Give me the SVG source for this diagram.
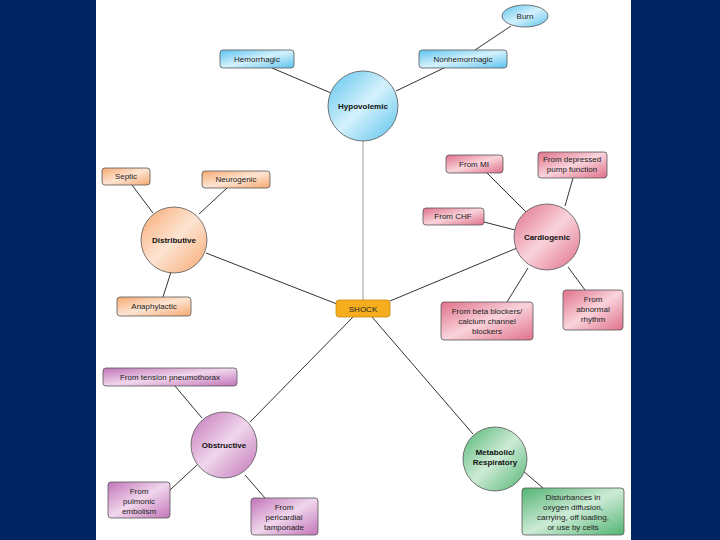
<svg xmlns="http://www.w3.org/2000/svg" width="720" height="540" viewBox="0 0 720 540">
<defs>
<linearGradient id="gBlue" x1="0" y1="0" x2="1" y2="1">
<stop offset="0" stop-color="#5cc3ee"/><stop offset="0.5" stop-color="#d4f1fc"/><stop offset="1" stop-color="#5cc3ee"/>
</linearGradient>
<linearGradient id="gOrange" x1="0" y1="0" x2="1" y2="1">
<stop offset="0" stop-color="#f6a870"/><stop offset="0.5" stop-color="#fde4d2"/><stop offset="1" stop-color="#f6a870"/>
</linearGradient>
<linearGradient id="gPink" x1="0" y1="0" x2="1" y2="1">
<stop offset="0" stop-color="#e0708a"/><stop offset="0.5" stop-color="#f9d3db"/><stop offset="1" stop-color="#e0708a"/>
</linearGradient>
<linearGradient id="gPurple" x1="0" y1="0" x2="1" y2="1">
<stop offset="0" stop-color="#c274b8"/><stop offset="0.5" stop-color="#f0d6ec"/><stop offset="1" stop-color="#c274b8"/>
</linearGradient>
<linearGradient id="gGreen" x1="0" y1="0" x2="1" y2="1">
<stop offset="0" stop-color="#52b472"/><stop offset="0.5" stop-color="#cdebd6"/><stop offset="1" stop-color="#52b472"/>
</linearGradient>
</defs>
<style>
.bg{fill:#002462}
.panel{fill:#ffffff}
.c{stroke:#555;stroke-width:0.8}
.b{stroke:#555;stroke-width:0.8}
.t{font-family:"Liberation Sans",Arial,sans-serif;font-size:8px;fill:#222;text-anchor:middle}
.tb{font-family:"Liberation Sans",Arial,sans-serif;font-size:8px;fill:#111;text-anchor:middle;font-weight:bold}
#connectors line{stroke:#333;stroke-width:1}
</style>
<rect class="bg" x="0" y="0" width="720" height="540"/>
<rect class="panel" x="96" y="0" width="535" height="540"/>
<g id="connectors">
<line x1="363" y1="141" x2="363" y2="300" style="stroke:#999"/>
<line x1="272" y1="68" x2="331" y2="93"/>
<line x1="446" y1="67" x2="396" y2="91"/>
<line x1="511" y1="26" x2="475" y2="50"/>
<line x1="132" y1="185" x2="153" y2="213"/>
<line x1="227" y1="188" x2="199" y2="214"/>
<line x1="163" y1="297" x2="171" y2="272"/>
<line x1="206" y1="253" x2="337" y2="304"/>
<line x1="487" y1="173" x2="526" y2="212"/>
<line x1="573" y1="178" x2="565" y2="206"/>
<line x1="484" y1="222" x2="515" y2="230"/>
<line x1="585" y1="290" x2="568" y2="267"/>
<line x1="507" y1="302" x2="528" y2="268"/>
<line x1="517" y1="248" x2="390" y2="301"/>
<line x1="175" y1="386" x2="202" y2="418"/>
<line x1="170" y1="490" x2="197" y2="465"/>
<line x1="265" y1="498" x2="245" y2="475"/>
<line x1="250" y1="422" x2="353" y2="317"/>
<line x1="522" y1="470" x2="543" y2="488"/>
<line x1="473" y1="434" x2="372" y2="317"/>
</g>
<g id="burn"><ellipse class="c" cx="525" cy="16" rx="23" ry="11" fill="url(#gBlue)"/><text class="t" x="525" y="19">Burn</text></g>
<g id="hemorrhagic"><rect class="b" x="220" y="50" width="74" height="18" rx="3" fill="url(#gBlue)"/><text class="t" x="257" y="62">Hemorrhagic</text></g>
<g id="nonhemorrhagic"><rect class="b" x="419" y="50" width="88" height="18" rx="3" fill="url(#gBlue)"/><text class="t" x="463" y="62">Nonhemorrhagic</text></g>
<g id="hypovolemic"><circle class="c" cx="363" cy="106" r="35" fill="url(#gBlue)"/><text class="tb" x="363" y="109">Hypovolemic</text></g>
<g id="septic"><rect class="b" x="102" y="168" width="48" height="17" rx="3" fill="url(#gOrange)"/><text class="t" x="126" y="179">Septic</text></g>
<g id="neurogenic"><rect class="b" x="202" y="171" width="68" height="17" rx="3" fill="url(#gOrange)"/><text class="t" x="236" y="182">Neurogenic</text></g>
<g id="distributive"><circle class="c" cx="174" cy="240" r="33" fill="url(#gOrange)"/><text class="tb" x="174" y="243">Distributive</text></g>
<g id="anaphylactic"><rect class="b" x="117" y="297" width="74" height="19" rx="3" fill="url(#gOrange)"/><text class="t" x="154" y="309">Anaphylactic</text></g>
<g id="shock"><rect x="336" y="300" width="54" height="17" rx="3" fill="#f6ae1e" stroke="#c98a10" stroke-width="0.8"/><text class="t" x="363" y="312">SHOCK</text></g>
<g id="frommi"><rect class="b" x="446" y="155" width="57" height="18" rx="3" fill="url(#gPink)"/><text class="t" x="474" y="167">From MI</text></g>
<g id="frompump"><rect class="b" x="538" y="152" width="69" height="26" rx="3" fill="url(#gPink)"/><text class="t" x="572" y="162">From depressed</text><text class="t" x="572" y="172">pump function</text></g>
<g id="fromchf"><rect class="b" x="423" y="208" width="61" height="17" rx="3" fill="url(#gPink)"/><text class="t" x="453" y="219">From CHF</text></g>
<g id="cardiogenic"><circle class="c" cx="547" cy="237" r="33" fill="url(#gPink)"/><text class="tb" x="547" y="240">Cardiogenic</text></g>
<g id="frombeta"><rect class="b" x="441" y="302" width="92" height="38" rx="3" fill="url(#gPink)"/><text class="t" x="487" y="314">From beta blockers/</text><text class="t" x="487" y="324">calcium channel</text><text class="t" x="487" y="334">blockers</text></g>
<g id="fromrhythm"><rect class="b" x="563" y="290" width="60" height="40" rx="3" fill="url(#gPink)"/><text class="t" x="593" y="302">From</text><text class="t" x="593" y="312">abnormal</text><text class="t" x="593" y="322">rhythm</text></g>
<g id="tension"><rect class="b" x="103" y="368" width="134" height="18" rx="3" fill="url(#gPurple)"/><text class="t" x="170" y="380">From tension pneumothorax</text></g>
<g id="obstructive"><circle class="c" cx="224" cy="445" r="33" fill="url(#gPurple)"/><text class="tb" x="224" y="448">Obstructive</text></g>
<g id="pulmonic"><rect class="b" x="108" y="482" width="62" height="36" rx="3" fill="url(#gPurple)"/><text class="t" x="139" y="494">From</text><text class="t" x="139" y="504">pulmonic</text><text class="t" x="139" y="514">embolism</text></g>
<g id="pericardial"><rect class="b" x="251" y="498" width="67" height="37" rx="3" fill="url(#gPurple)"/><text class="t" x="284" y="510">From</text><text class="t" x="284" y="520">pericardial</text><text class="t" x="284" y="530">tamponade</text></g>
<g id="metabolic"><circle class="c" cx="495" cy="459" r="32" fill="url(#gGreen)"/><text class="tb" x="495" y="455">Metabolic/</text><text class="tb" x="495" y="465">Respiratory</text></g>
<g id="disturbances"><rect class="b" x="522" y="488" width="102" height="47" rx="3" fill="url(#gGreen)"/><text class="t" x="573" y="500">Disturbances in</text><text class="t" x="573" y="510">oxygen diffusion,</text><text class="t" x="573" y="520">carrying, off loading,</text><text class="t" x="573" y="530">or use by cells</text></g>
</svg>
